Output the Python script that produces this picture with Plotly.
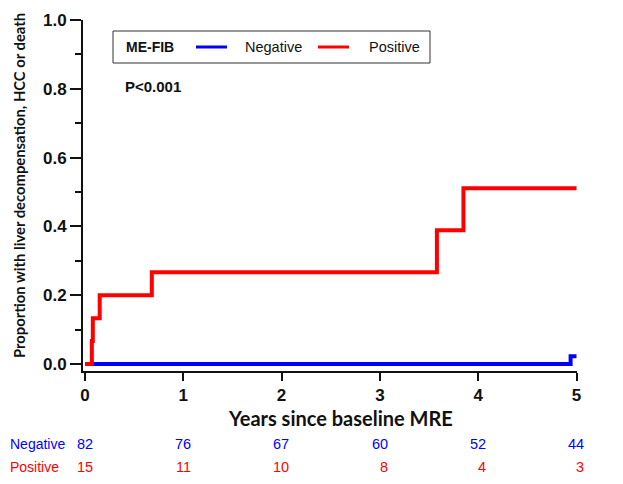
import plotly.graph_objects as go

# Kaplan-Meier style cumulative incidence data
neg_time = [0.0, 4.94, 5.0]
neg_prop = [0.0, 0.0227, 0.0227]
pos_time = [0.0, 0.07, 0.08, 0.15, 0.68, 3.58, 3.85, 5.0]
pos_prop = [0.0, 0.067, 0.133, 0.200, 0.267, 0.389, 0.511, 0.511]

# number at risk table
risk_times = [0, 1, 2, 3, 4, 5]
neg_at_risk = [82, 76, 67, 60, 52, 44]
pos_at_risk = [15, 11, 10, 8, 4, 3]

y_ticks = [0, 0.2, 0.4, 0.6, 0.8, 1.0]
y_minor = [0.1, 0.3, 0.5, 0.7, 0.9]

BLUE = "#0000FF"
RED = "#FF0000"
INK = "#111111"
TICKFONT = "Liberation Sans, Arial"
TITLEFONT = "Lato, Open Sans, Liberation Sans"
TEXTFONT = "Liberation Sans, Arial"

# the page places the figure 8 px in from the top-left corner
OFF = 8
W, H = 623 - OFF, 484 - OFF
# plot area in page pixels: x 83..577, y 20..371
L, T = 83 - OFF, 20 - OFF
R = W - (577 - OFF)
B = H - (371 - OFF)
XR = [-0.02, 5.005]
YR = [-0.02, 1.0]
PW, PH = W - L - R, H - T - B


def px(page_x):
    return (page_x - OFF - L) / PW


def py(page_y):
    return (H - B - (page_y - OFF)) / PH


def xdata_to_paper(v):
    return (v - XR[0]) / (XR[1] - XR[0])


fig = go.Figure()
fig.add_trace(go.Scatter(x=neg_time, y=neg_prop, mode="lines", name="Negative",
                         line=dict(color=BLUE, width=4, shape="hv")))
fig.add_trace(go.Scatter(x=pos_time, y=pos_prop, mode="lines", name="Positive",
                         line=dict(color=RED, width=4, shape="hv")))

fig.update_layout(
    width=W, height=H,
    margin=dict(l=L, r=R, t=T, b=B),
    plot_bgcolor="white", paper_bgcolor="white",
    showlegend=False,
)

fig.update_xaxes(
    range=XR, tickvals=risk_times, ticktext=[f"<b>{t}</b>" for t in risk_times],
    showline=True, linecolor=INK, linewidth=2,
    ticks="outside", ticklen=8, tickwidth=2, tickcolor=INK,
    showgrid=False, zeroline=False, automargin=False,
    tickfont=dict(family=TICKFONT, size=17, color=INK),
)
fig.update_yaxes(
    range=YR, tickvals=y_ticks, ticktext=[f"<b>{v:.1f}</b>" for v in y_ticks],
    showline=True, linecolor=INK, linewidth=2,
    ticks="outside", ticklen=11, tickwidth=2, tickcolor=INK,
    minor=dict(tickvals=y_minor, ticks="outside", ticklen=6,
               tickwidth=2, tickcolor=INK),
    showgrid=False, zeroline=False, automargin=False,
    tickfont=dict(family=TICKFONT, size=17, color=INK),
)

# axis titles
fig.add_annotation(text="<b>Years since baseline MRE</b>", xref="paper", yref="paper",
                   x=px(340), y=py(418), xanchor="center", yanchor="middle", showarrow=False,
                   font=dict(family=TITLEFONT, size=20, color=INK))
fig.add_annotation(text="<b>Proportion with liver decompensation, HCC or death</b>",
                   xref="paper", yref="paper", x=px(19), y=py(186), textangle=-90,
                   xanchor="center", yanchor="middle", showarrow=False,
                   font=dict(family=TITLEFONT, size=14.8, color=INK))

# legend box drawn by hand
fig.add_shape(type="rect", xref="paper", yref="paper",
              x0=px(113), x1=px(430), y0=py(63), y1=py(31),
              line=dict(color="#333333", width=1), fillcolor="white", layer="above")
fig.add_annotation(text="<b>ME-FIB</b>", xref="paper", yref="paper", x=px(124), y=py(47),
                   xanchor="left", yanchor="middle", showarrow=False,
                   font=dict(family=TEXTFONT, size=14, color=INK))
for (name, col, lx0, tx) in [("Negative", BLUE, 196, 243), ("Positive", RED, 318, 367)]:
    fig.add_shape(type="line", xref="paper", yref="paper",
                  x0=px(lx0), x1=px(lx0 + 31), y0=py(47), y1=py(47),
                  line=dict(color=col, width=3), layer="above")
    fig.add_annotation(text=name, xref="paper", yref="paper", x=px(tx), y=py(47),
                       xanchor="left", yanchor="middle", showarrow=False,
                       font=dict(family=TEXTFONT, size=14.5, color=INK))

fig.add_annotation(text="<b>P<0.001</b>", xref="paper", yref="paper",
                   x=px(123), y=py(86), xanchor="left", yanchor="middle", showarrow=False,
                   font=dict(family=TEXTFONT, size=15, color=INK))

# number at risk rows
rows = [("Negative", neg_at_risk, BLUE, 444), ("Positive", pos_at_risk, RED, 467)]
for label, vals, col, ypix in rows:
    fig.add_annotation(text=label, xref="paper", yref="paper", x=px(8), y=py(ypix),
                       xanchor="left", yanchor="middle", showarrow=False,
                       font=dict(family=TEXTFONT, size=14, color=col))
    for t, v in zip(risk_times, vals):
        fig.add_annotation(text=str(v), xref="paper", yref="paper",
                           x=xdata_to_paper(t + 0.1), y=py(ypix),
                           xanchor="right", yanchor="middle", showarrow=False,
                           font=dict(family=TEXTFONT, size=14.5, color=col))

fig.write_html("out.html")
